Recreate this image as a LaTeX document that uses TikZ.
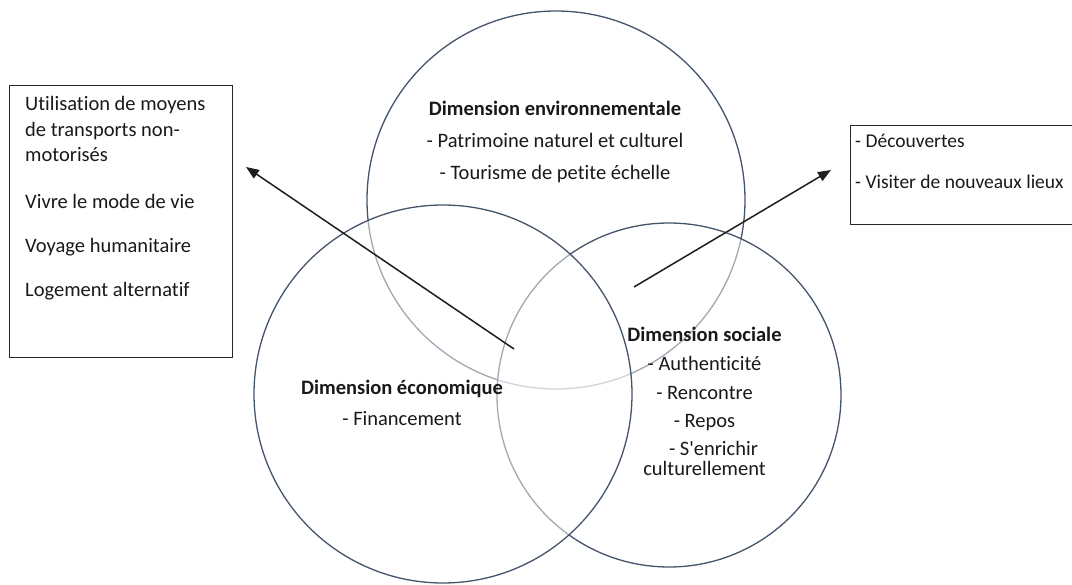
\documentclass[tikz,border=0pt]{standalone}
\usepackage{fontspec}
\setmainfont{Carlito}[Ligatures={TeXOff,NoCommon}]
\usetikzlibrary{arrows.meta}
\definecolor{circcol}{RGB}{68,84,106}
\definecolor{textcol}{RGB}{25,25,25}
\definecolor{boxcol}{RGB}{40,40,40}
\definecolor{arrcol}{RGB}{30,30,30}
\begin{document}
\begin{tikzpicture}[x=1pt,y=-1pt,
  circ/.style={circle, draw=circcol, line width=1.3pt, fill=white, fill opacity=0.5, inner sep=0pt},
  txt/.style={font=\fontsize{20.5}{24}\selectfont, text=textcol, inner sep=0pt, anchor=mid},
  btxt/.style={font=\fontsize{20.5}{24}\selectfont\bfseries, text=textcol, inner sep=0pt, anchor=mid},
  ltxt/.style={txt, anchor=mid west},
  rtxt/.style={ltxt, font=\fontsize{19.5}{24}\selectfont},
  box/.style={draw=boxcol, line width=1.2pt, inner sep=0pt, anchor=north west},
  arr/.style={draw=arrcol, line width=1.5pt, -{Triangle[length=13pt,width=10pt]}}]
\useasboundingbox (0,0) rectangle (1072,585);
% circles
\node[circ, minimum size=378pt] (env) at (556,200) {};
\node[circ, minimum size=344pt] (soc) at (669,395) {};
\node[circ, minimum size=378pt] (eco) at (443,394) {};
% boxes
\node[box, minimum width=223pt, minimum height=272pt] (lbox) at (9,85) {};
\node[box, minimum width=240pt, minimum height=99pt] (rbox) at (850,125) {};
% left box text
\node[ltxt] (l1) at (25,108) {Utilisation de moyens};
\node[ltxt] (l2) at (25,134) {de transports non-};
\node[ltxt] (l3) at (25,159) {motorisés};
\node[ltxt] (l4) at (25,206) {Vivre le mode de vie};
\node[ltxt] (l5) at (25,250) {Voyage humanitaire};
\node[ltxt] (l6) at (25,294) {Logement alternatif};
% right box text
\node[rtxt] (r1) at (855,145) {- Découvertes};
\node[rtxt] (r2) at (855,186) {- Visiter de nouveaux lieux};
% environment
\node[btxt] (e0) at (555,113) {Dimension environnementale};
\node[txt] (e1) at (555,145) {- Patrimoine naturel et culturel};
\node[txt] (e2) at (555,177) {- Tourisme de petite échelle};
% economic
\node[btxt] (c0) at (402,392) {Dimension économique};
\node[txt] (c1) at (402,423) {- Financement};
% social
\node[btxt] (s0) at (704.5,339) {Dimension sociale};
\node[txt] (s1) at (704.5,368) {- Authenticité};
\node[txt] (s2) at (704.5,397) {- Rencontre};
\node[txt] (s3) at (704.5,425) {- Repos};
\node[txt] (s4) at (713.5,453) {- S'enrichir};
\node[txt] (s5) at (704.5,473) {culturellement};
% arrows
\coordinate (a1s) at (514,349);
\coordinate (a1e) at (246,167);
\coordinate (a2s) at (634,287);
\coordinate (a2e) at (831,170);
\draw[arr] (a1s) -- (a1e);
\draw[arr] (a2s) -- (a2e);
\end{tikzpicture}
\end{document}
